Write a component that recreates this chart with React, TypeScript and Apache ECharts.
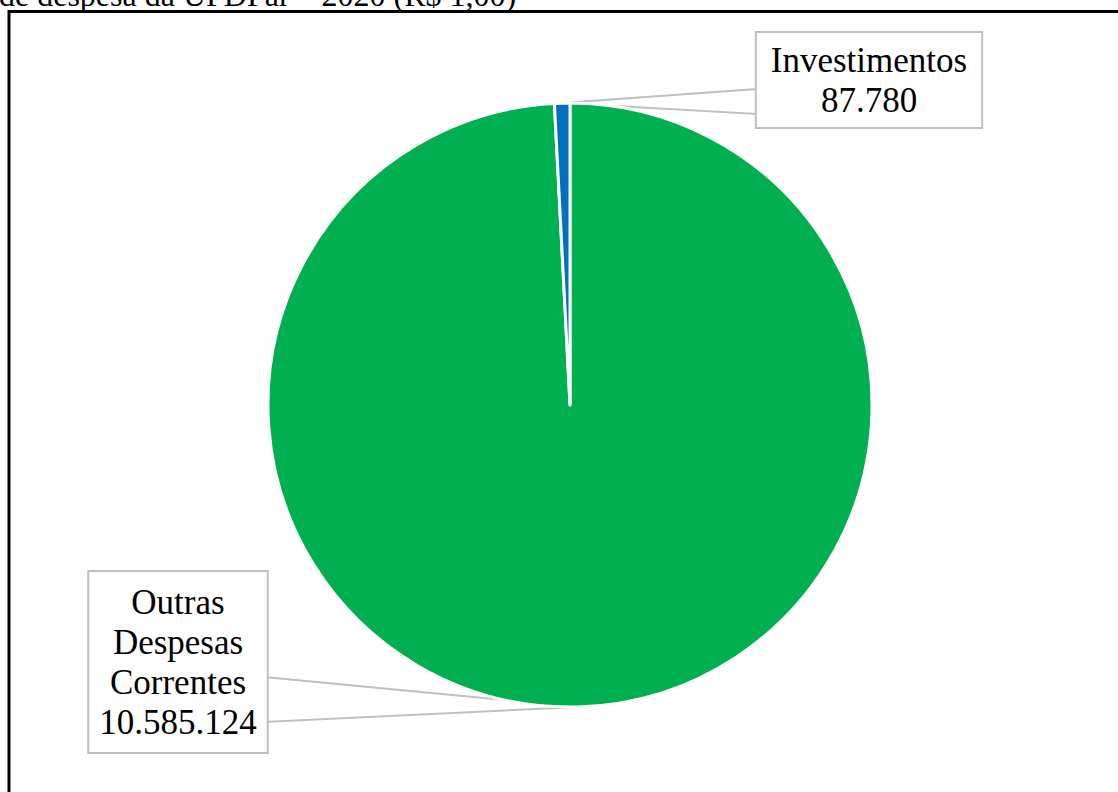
import React, { useEffect, useRef } from "react";
import * as echarts from "echarts";

const categories = ["Outras\nDespesas\nCorrentes", "Investimentos"];
const values = [10585124, 87780];
const valueLabels = ["10.585.124", "87.780"];
const colors = ["#00B050", "#0070C0"];
const titleText = "de despesa da UFDPar – 2020 (R$ 1,00)";

const SERIF = "'Liberation Serif', 'Times New Roman', serif";

export default function App() {
  const ref = useRef<HTMLDivElement>(null);
  useEffect(() => {
    if (!ref.current) return;
    const chart = echarts.init(ref.current, undefined, { renderer: "svg" });
    const cx = 570;
    const cy = 405;
    const R = 302;
    // label box centres and the box edge the callout attaches to
    const labelPos = [
      { x: 178, y: 662, edgeX: 264, y1: 677, y2: 722 },
      { x: 869, y: 80, edgeX: 757, y1: 89, y2: 114 },
    ];
    const paddings = [
      [10, 10, 10, 10],
      [7, 14, 7, 14],
    ];
    // anchor points on the pie rim, from the data (start at top, clockwise)
    const total = values.reduce((a, b) => a + b, 0);
    let acc = 0;
    const anchors = values.map((v) => {
      const mid = ((acc + v / 2) / total) * Math.PI * 2;
      acc += v;
      return [cx + R * Math.sin(mid), cy - R * Math.cos(mid)];
    });
    const callouts = labelPos.map((p, i) => ({
      type: "polygon",
      z: 1,
      shape: {
        points: [
          [p.edgeX, p.y1],
          anchors[i],
          [p.edgeX, p.y2],
        ],
      },
      style: { fill: "#fff", stroke: "#BFBFBF", lineWidth: 2 },
    }));
    chart.setOption({
      animation: false,
      backgroundColor: "#ffffff",
      graphic: [
        {
          type: "rect",
          z: 0,
          shape: { x: 9, y: 11.5, width: 1130, height: 800 },
          style: { fill: "none", stroke: "#000", lineWidth: 3 },
        },
        {
          type: "text",
          z: 0,
          x: -1,
          y: 11,
          style: {
            text: titleText,
            font: "32px " + SERIF,
            fill: "#000",
            textVerticalAlign: "bottom",
          },
        },
        ...callouts,
      ],
      series: [
        {
          type: "pie",
          z: 2,
          center: [cx, cy],
          radius: R,
          startAngle: 90,
          clockwise: true,
          itemStyle: { borderColor: "#fff", borderWidth: 3 },
          data: categories.map((c, i) => ({
            name: c,
            value: values[i],
            itemStyle: { color: colors[i] },
            label: { padding: paddings[i] },
          })),
          label: {
            show: true,
            position: "outside",
            formatter: (p: any) => p.name + "\n" + valueLabels[p.dataIndex],
            fontFamily: SERIF,
            fontSize: 35,
            lineHeight: 40,
            color: "#000",
            align: "center",
            backgroundColor: "#fff",
            borderColor: "#BFBFBF",
            borderWidth: 2,
          },
          labelLine: { show: false },
          labelLayout: (params: any) => ({
            x: labelPos[params.dataIndex].x,
            y: labelPos[params.dataIndex].y,
            align: "center",
            verticalAlign: "middle",
          }),
        },
      ],
    });
    return () => chart.dispose();
  }, []);
  return (
    <div
      ref={ref}
      style={{ position: "fixed", left: 0, top: 0, width: 1118, height: 792 }}
    />
  );
}
